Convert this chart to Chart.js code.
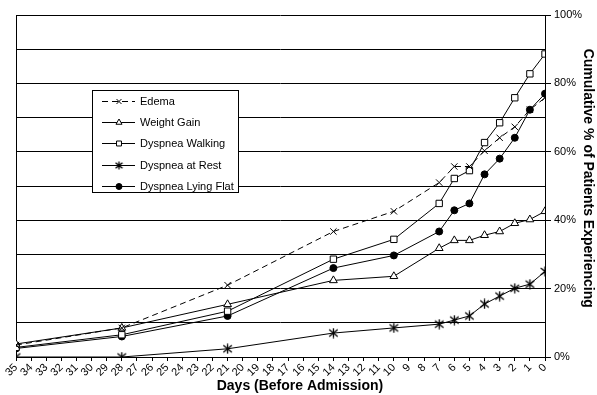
<!DOCTYPE html>
<html>
<head>
<meta charset="utf-8">
<script src="https://cdn.jsdelivr.net/npm/chart.js@4/dist/chart.umd.min.js"></script>
<style>
  html, body { margin: 0; padding: 0; background: #fff; }
  #wrap { width: 597px; height: 395px; }
</style>
</head>
<body>
<div id="wrap"><canvas id="myChart" width="597" height="395"></canvas></div>
<script>
// days before admission where values were recorded
var days = [35, 28, 21, 14, 10, 7, 6, 5, 4, 3, 2, 1, 0];

var edema = [3.5, 8.5, 21, 36.7, 42.6, 51, 55.7, 55.7, 60.3, 64.1, 67.3, 72.3, 75.8];
var weightGain = [3.8, 8.5, 15.4, 22.4, 23.6, 31.8, 34.1, 34.1, 35.6, 36.7, 39.1, 40.2, 42.6];
var dyspneaWalking = [2.8, 6.5, 13.4, 28.6, 34.4, 44.9, 52.2, 54.5, 62.7, 68.5, 75.8, 82.8, 88.6];
var dyspneaRest = [0, 0, 2.4, 7, 8.5, 9.6, 10.8, 12, 15.5, 17.8, 20.1, 21.3, 25];
var dyspneaLying = [2.5, 6, 12, 26, 29.7, 36.7, 42.9, 44.9, 53.4, 58, 64.1, 72.3, 77];

var seriesNames = ["Edema", "Weight Gain", "Dyspnea Walking", "Dyspnea at Rest", "Dyspnea Lying Flat"];
var yTicks = [0, 20, 40, 60, 80, 100];

var FONT = "'Liberation Sans', Arial, sans-serif";

// x with a vertical bar, the marker used for "at rest"
function asterisk(size) {
  var c = document.createElement("canvas");
  c.width = size;
  c.height = size;
  var g = c.getContext("2d");
  var m = size / 2, r = size / 2 - 0.5;
  g.strokeStyle = "#000";
  g.lineWidth = 1.3;
  g.beginPath();
  g.moveTo(m - r * 0.85, m - r * 0.7); g.lineTo(m + r * 0.85, m + r * 0.7);
  g.moveTo(m + r * 0.85, m - r * 0.7); g.lineTo(m - r * 0.85, m + r * 0.7);
  g.moveTo(m, m - r); g.lineTo(m, m + r);
  g.stroke();
  return c;
}
var starBig = asterisk(11);
var starSmall = asterisk(9);

function pts(arr) {
  return days.map(function (d, i) { return {x: d, y: arr[i]}; });
}

function makeSet(name, arr, style, fill, dash) {
  return {
    label: name,
    data: pts(arr),
    borderColor: "#000",
    borderWidth: 1,
    borderDash: dash || [],
    backgroundColor: fill,
    pointStyle: style,
    pointRadius: style == "circle" ? 3.5 : 4.5,
    pointBorderColor: "#000",
    pointBackgroundColor: fill,
    pointBorderWidth: 1,
    tension: 0
  };
}

// legend drawn inside the plot, like the original figure
var boxLegend = {
  id: "boxLegend",
  afterDatasetsDraw: function (chart) {
    var ctx = chart.ctx;
    var x0 = 92.5, y0 = 90.5, w = 146, h = 102;
    ctx.save();
    ctx.fillStyle = "#fff";
    ctx.fillRect(x0, y0, w, h);
    ctx.strokeStyle = "#000";
    ctx.lineWidth = 1;
    ctx.strokeRect(x0, y0, w, h);
    ctx.font = "11px " + FONT;
    ctx.textBaseline = "middle";
    chart.data.datasets.forEach(function (ds, i) {
      var y = Math.round(101 + i * 21.2) + 0.5;
      ctx.strokeStyle = "#000";
      ctx.lineWidth = 1;
      ctx.setLineDash(ds.borderDash || []);
      ctx.beginPath();
      ctx.moveTo(102, y);
      ctx.lineTo(135, y);
      ctx.stroke();
      ctx.setLineDash([]);
      ctx.fillStyle = ds.pointBackgroundColor;
      ctx.strokeStyle = "#000";
      var st = ds.pointStyle == starBig ? starSmall : ds.pointStyle;
      Chart.helpers.drawPoint(ctx, {
        pointStyle: st,
        radius: ds.pointStyle == "circle" ? 3 : 3.5,
        borderWidth: 1,
        rotation: 0
      }, 119, y);
      ctx.fillStyle = "#000";
      ctx.fillText(ds.label, 140, y);
    });
    ctx.restore();
  }
};

new Chart("myChart", {
  type: "line",
  data: {
    datasets: [
      makeSet(seriesNames[0], edema, "crossRot", "#fff", [6, 4]),
      makeSet(seriesNames[1], weightGain, "triangle", "#fff"),
      makeSet(seriesNames[2], dyspneaWalking, "rect", "#fff"),
      makeSet(seriesNames[3], dyspneaRest, starBig, "#fff"),
      makeSet(seriesNames[4], dyspneaLying, "circle", "#000")
    ]
  },
  options: {
    responsive: false,
    animation: false,
    layout: {padding: {top: 15, left: 0, right: 0, bottom: 0}},
    plugins: {
      legend: {display: false},
      tooltip: {enabled: false}
    },
    scales: {
      x: {
        type: "linear",
        reverse: true,
        min: 0,
        max: 35,
        afterFit: function (s) { s.height = 38; },
        afterBuildTicks: function (s) {
          var t = [];
          for (var d = 0; d <= 35; d++) t.push({value: d});
          s.ticks = t;
        },
        ticks: {
          autoSkip: false,
          maxRotation: 45,
          minRotation: 45,
          padding: 0,
          color: "#000",
          font: {family: FONT, size: 11}
        },
        grid: {drawOnChartArea: false, drawTicks: true, tickLength: 4, color: "#000"},
        border: {color: "#000"},
        title: {
          display: true,
          // leading spaces push the title right, as in the original
          text: "          Days (Before Admission)",
          color: "#000",
          font: {family: FONT, size: 14, weight: "bold"},
          padding: {top: 0, bottom: 0}
        }
      },
      yL: {
        position: "left",
        min: 0,
        max: 100,
        afterFit: function (s) { s.width = 16; },
        ticks: {display: false},
        grid: {drawOnChartArea: false, drawTicks: false},
        border: {color: "#000"}
      },
      y: {
        position: "right",
        min: 0,
        max: 100,
        afterFit: function (s) { s.width = 52; },
        ticks: {
          stepSize: 10,
          autoSkip: false,
          color: "#000",
          padding: 3,
          font: {family: FONT, size: 11},
          callback: function (v) { return yTicks.indexOf(v) >= 0 ? v + "%" : ""; }
        },
        grid: {
          color: "#000",
          tickLength: 6,
          tickColor: function (c) { return yTicks.indexOf(c.tick.value) >= 0 ? "#000" : "rgba(0,0,0,0)"; }
        },
        border: {color: "#000"},
        title: {
          display: true,
          text: "Cumulative % of Patients Experiencing    ",
          color: "#000",
          font: {family: FONT, size: 14, weight: "bold"},
          padding: {top: 1, bottom: 0}
        }
      }
    }
  },
  plugins: [boxLegend]
});
</script>
</body>
</html>
